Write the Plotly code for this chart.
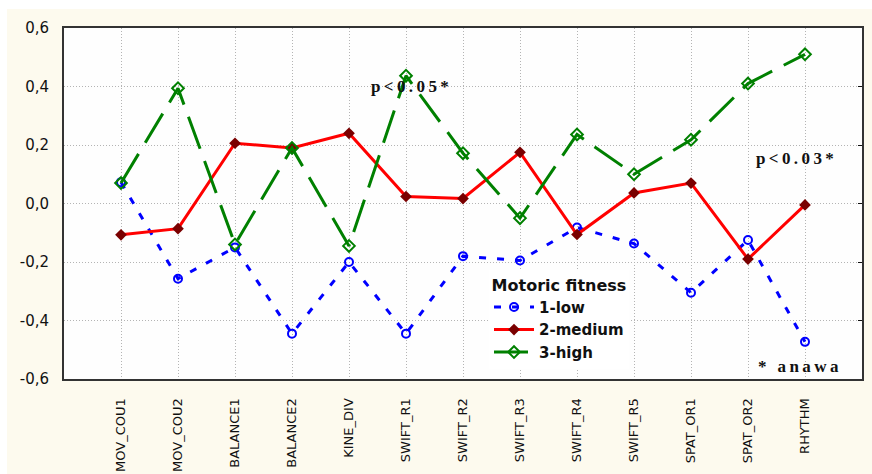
import plotly.graph_objects as go

# Variables on the x axis
categories = ["MOV_COU1", "MOV_COU2", "BALANCE1", "BALANCE2", "KINE_DIV",
              "SWIFT_R1", "SWIFT_R2", "SWIFT_R3", "SWIFT_R4", "SWIFT_R5",
              "SPAT_OR1", "SPAT_OR2", "RHYTHM"]

# Group means for each motoric fitness level
low = [0.073, -0.257, -0.15, -0.445, -0.2, -0.445, -0.18, -0.195, -0.082,
       -0.137, -0.305, -0.125, -0.473]
medium = [-0.107, -0.086, 0.206, 0.19, 0.24, 0.024, 0.017, 0.175, -0.106,
          0.036, 0.07, -0.19, -0.005]
high = [0.07, 0.394, -0.14, 0.19, -0.145, 0.437, 0.172, -0.05, 0.236, 0.1,
        0.218, 0.41, 0.51]

series_names = ["1-low", "2-medium", "3-high"]
y_ticks = [0.6, 0.4, 0.2, 0.0, -0.2, -0.4, -0.6]
y_tick_text = ["0,6", "0,4", "0,2", "0,0", "-0,2", "-0,4", "-0,6"]

legend_title = "Motoric fitness"
notes = [("p<0.05*", 5.07, 0.40), ("p<0.03*", 11.82, 0.155), ("* anawa", 11.88, -0.558)]

CREAM = "#fdfaee"
L, R, T, B = 64, 10, 28, 95
W, H = 872, 474
pw, ph = W - L - R, H - T - B
THIN = "\u2009"


def spaced(s):
    # letter-spaced bold label
    return "<b>" + THIN.join(s) + "</b>"


fig = go.Figure()

fig.add_trace(go.Scatter(
    x=categories, y=low, name=series_names[0], mode="lines+markers",
    line=dict(color="#0000ff", width=3, dash="7px,11px"),
    marker=dict(symbol="circle-open", size=8, color="#0000ff", line=dict(width=2)),
))
fig.add_trace(go.Scatter(
    x=categories, y=medium, name=series_names[1], mode="lines+markers",
    line=dict(color="#ff0000", width=3),
    marker=dict(symbol="diamond", size=9, color="#7a0000"),
))
fig.add_trace(go.Scatter(
    x=categories, y=high, name=series_names[2], mode="lines+markers",
    line=dict(color="#008000", width=3, dash="34px,13px"),
    marker=dict(symbol="diamond-open", size=9, color="#008000", line=dict(width=2)),
))

for text, xv, yv in notes:
    fig.add_annotation(
        x=xv, y=yv, xref="x", yref="y", text=spaced(text), showarrow=False,
        font=dict(family="Liberation Serif", size=17, color="#111111"),
    )

# Cream page frame with a white strip at the top and left edge
fig.add_shape(type="rect", xref="paper", yref="paper", layer="below",
              x0=(7 - L) / pw, x1=(W - L) / pw, y0=-(B) / ph, y1=(H - B - 9) / ph,
              line=dict(width=0), fillcolor=CREAM)
fig.add_shape(type="rect", xref="paper", yref="paper", layer="below",
              x0=0, x1=1, y0=0, y1=1, line=dict(width=0), fillcolor="#fefefe")

grid = dict(showgrid=True, gridcolor="#b4b4b4", gridwidth=1, griddash="1px,2px")

fig.update_layout(
    width=W, height=H,
    margin=dict(l=L, r=R, t=T, b=B, autoexpand=False),
    paper_bgcolor="white",
    plot_bgcolor="#fefefe",
    font=dict(family="DejaVu Sans", color="black"),
    xaxis=dict(
        type="category", range=[-1, 13], categoryorder="array", categoryarray=categories,
        tickangle=-90, tickfont=dict(family="DejaVu Sans", size=13, color="#111111"),
        ticks="outside", ticklen=0, ticklabelstandoff=12, automargin=False,
        showline=True, linecolor="#333333", linewidth=2, mirror=True,
        zeroline=False, **grid,
    ),
    yaxis=dict(
        range=[-0.6, 0.6], tickvals=y_ticks, ticktext=y_tick_text,
        tickfont=dict(family="DejaVu Sans", size=15, color="#111111"),
        ticks="outside", ticklen=0, ticklabelstandoff=10, automargin=False,
        showline=True, linecolor="#333333", linewidth=2, mirror=True,
        zeroline=False, **grid,
    ),
    yaxis2=dict(
        overlaying="y", side="right", range=[-0.6, 0.6], tickvals=y_ticks,
        showticklabels=False, ticks="inside", ticklen=4, tickcolor="#111111",
        showgrid=False, zeroline=False, showline=False, automargin=False,
    ),
    legend=dict(
        x=(489 - L) / pw, y=(H - B - 270) / ph, xanchor="left", yanchor="top",
        bgcolor="white", borderwidth=0, itemwidth=40,
        font=dict(family="DejaVu Sans", size=15, color="#111111", weight="bold"),
        title=dict(text="<b>" + legend_title + "</b>", side="top center",
                   font=dict(family="DejaVu Sans", size=16, color="#111111")),
    ),
    showlegend=True,
)

# Invisible trace so the right-hand tick axis is drawn
fig.add_trace(go.Scatter(x=[categories[0]], y=[None], yaxis="y2", showlegend=False,
                         hoverinfo="skip"))

fig.write_html("out.html")
